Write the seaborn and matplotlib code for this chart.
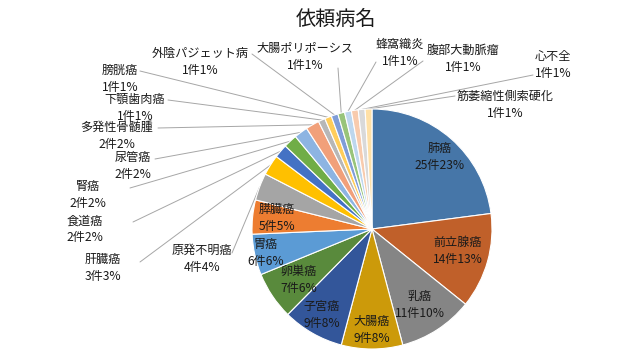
import numpy as np
import matplotlib
matplotlib.use("Agg")
import matplotlib.pyplot as plt
import seaborn as sns

sns.set_theme(style="white")
plt.rcParams['font.family'] = ['Noto Sans CJK JP', 'DejaVu Sans']

# ---- data ----
names = ["肺癌", "前立腺癌", "乳癌", "大腸癌", "子宮癌", "卵巣癌", "胃癌", "膵臓癌",
         "原発不明癌", "肝臓癌", "食道癌", "腎癌", "尿管癌", "多発性骨髄腫", "下顎歯肉癌",
         "膀胱癌", "外陰パジェット病", "大腸ポリポーシス", "蜂窩織炎", "腹部大動脈瘤",
         "心不全", "筋萎縮性側索硬化"]
counts = [25, 14, 11, 9, 9, 7, 6, 5, 4, 3, 2, 2, 2, 2, 1, 1, 1, 1, 1, 1, 1, 1]
pcts = [23, 13, 10, 8, 8, 6, 6, 5, 4, 3, 2, 2, 2, 2, 1, 1, 1, 1, 1, 1, 1, 1]
title = "依頼病名"

colors = ["#4676A8", "#C0602A", "#858585", "#CC9A0A", "#33569A", "#598A3C",
          "#5B9BD5", "#ED7D31", "#A5A5A5", "#FFC000", "#4472C4", "#70AD47",
          "#8DB4E2", "#F1A07A", "#B7B7B7", "#FFCD5A", "#7F9DD8", "#98C47A",
          "#BDD7EE", "#F8CBAD", "#D9D9D9", "#FFE0A6"]

# ---- layout (pixel positions of labels) ----
W, H = 640, 360
CX, CY, R = 372, 229, 120
# label centre (px) and leader attach point (px) ; None = inside label
label_pos = [(440, 157), (458, 251), (420, 305), (372, 330), (322, 315), (299, 280),
             (266, 253), (277, 218), (202, 259), (103, 268), (85, 229), (88, 195),
             (133, 166), (117, 136), (135, 108), (120, 79), (200, 62), (305, 57),
             (400, 53), (463, 59), (553, 65), (505, 105)]
attach = [None] * 8 + [(232, 253), (140, 262), (133, 222), (130, 188), (155, 159),
                       (158, 128), (168, 100), (140, 71), (252, 54), (338, 68),
                       (376, 62), (423, 61), (533, 75), (455, 96)]


def px2d(p):
    return ((p[0] - CX) / R, (CY - p[1]) / R)


fig = plt.figure(figsize=(6.4, 3.6), dpi=100)
ax = fig.add_axes([0, 0, 1, 1])
wedges, _ = ax.pie(counts, colors=colors, startangle=90, counterclock=False,
                   radius=1.0, center=(0, 0),
                   wedgeprops=dict(linewidth=0.8, edgecolor="white"))
ax.set_xlim(-CX / R, (W - CX) / R)
ax.set_ylim(-(H - CY) / R, CY / R)
ax.set_aspect("equal")
ax.axis("off")

fs = 8.7
for i, w in enumerate(wedges):
    txt = f"{names[i]}\n{counts[i]}件{pcts[i]}%"
    x, y = px2d(label_pos[i])
    ax.text(x, y, txt, ha="center", va="center", fontsize=fs, color="#1A1A1A",
            linespacing=1.35)
    if attach[i] is not None:
        ang = np.deg2rad((w.theta1 + w.theta2) / 2)
        ex, ey = np.cos(ang) * 1.0, np.sin(ang) * 1.0
        axp, ayp = px2d(attach[i])
        ax.plot([axp, ex], [ayp, ey], color="#A6A6A6", lw=0.7, zorder=0.5)

ax.text(*px2d((336, 19)), title, ha="center", va="center", fontsize=14.5,
        color="#1A1A1A")

fig.savefig("out.png", dpi=100, facecolor="white")
